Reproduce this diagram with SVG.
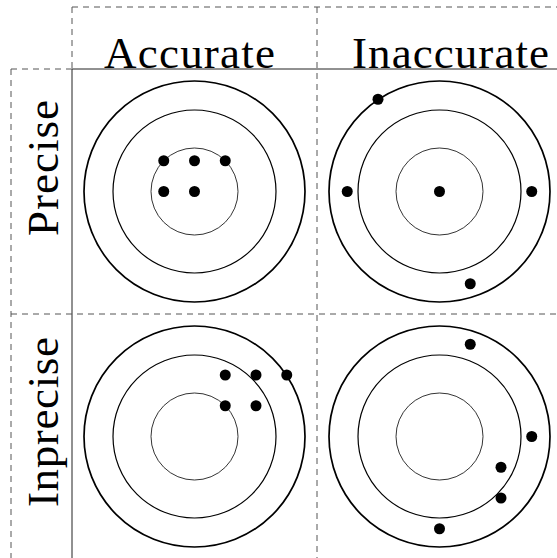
<svg xmlns="http://www.w3.org/2000/svg" width="557" height="558" viewBox="0 0 557 558">
<style>
.grid{stroke:#555;stroke-width:1;fill:none}
.solid{stroke:#222}
.dash{stroke-dasharray:6 5}
.outer{fill:none;stroke:#000;stroke-width:1.7}
.mid{fill:none;stroke:#000;stroke-width:1.2}
.inner{fill:none;stroke:#000;stroke-width:0.8}
.dot{fill:#000}
.lbl{font-family:"Liberation Serif","Times New Roman",serif;font-size:45px;fill:#000}
</style>
<rect width="557" height="558" fill="#fff"/>
<g id="connectors">
<line class="grid dash" x1="72" y1="7" x2="557" y2="7"/>
<line class="grid dash" x1="72" y1="7" x2="72" y2="69"/>
<line class="grid solid" x1="72" y1="69" x2="72" y2="558"/>
<line class="grid dash" x1="11" y1="69" x2="72" y2="69"/>
<line class="grid solid" x1="72" y1="69" x2="557" y2="69"/>
<line class="grid dash" x1="317" y1="7" x2="317" y2="558"/>
<line class="grid dash" x1="11" y1="69" x2="11" y2="558"/>
<line class="grid dash" x1="11" y1="314" x2="557" y2="314"/>
</g>
<g id="label-accurate"><text class="lbl" x="104" y="68" textLength="171">Accurate</text></g>
<g id="label-inaccurate"><text class="lbl" x="352" y="68" textLength="197">Inaccurate</text></g>
<g id="label-precise"><text class="lbl" transform="translate(58,236) rotate(-90)" x="0" y="0" textLength="136">Precise</text></g>
<g id="label-imprecise"><text class="lbl" transform="translate(58,507) rotate(-90)" x="0" y="0" textLength="170">Inprecise</text></g>
<g id="target-accurate-precise" transform="translate(194.5,191.5)">
<circle class="outer" r="110.5"/><circle class="mid" r="81.5"/><circle class="inner" r="43.5"/>
<circle class="dot" cx="-30.75" cy="-30.75" r="5.5"/><circle class="dot" cx="0" cy="-30.75" r="5.5"/><circle class="dot" cx="30.75" cy="-30.75" r="5.5"/>
<circle class="dot" cx="-30.75" cy="0" r="5.5"/><circle class="dot" cx="0" cy="0" r="5.5"/>
</g>
<g id="target-inaccurate-precise" transform="translate(439.5,191.5)">
<circle class="outer" r="110.5"/><circle class="mid" r="81.5"/><circle class="inner" r="43.5"/>
<circle class="dot" cx="-61.5" cy="-92.25" r="5.5"/><circle class="dot" cx="-92.25" cy="0" r="5.5"/><circle class="dot" cx="0" cy="0" r="5.5"/>
<circle class="dot" cx="92.25" cy="0" r="5.5"/><circle class="dot" cx="30.75" cy="92.25" r="5.5"/>
</g>
<g id="target-accurate-imprecise" transform="translate(194.5,436.5)">
<circle class="outer" r="110.5"/><circle class="mid" r="81.5"/><circle class="inner" r="43.5"/>
<circle class="dot" cx="30.75" cy="-61.5" r="5.5"/><circle class="dot" cx="61.5" cy="-61.5" r="5.5"/><circle class="dot" cx="92.25" cy="-61.5" r="5.5"/>
<circle class="dot" cx="30.75" cy="-30.75" r="5.5"/><circle class="dot" cx="61.5" cy="-30.75" r="5.5"/>
</g>
<g id="target-inaccurate-imprecise" transform="translate(439.5,436.5)">
<circle class="outer" r="110.5"/><circle class="mid" r="81.5"/><circle class="inner" r="43.5"/>
<circle class="dot" cx="30.75" cy="-92.25" r="5.5"/><circle class="dot" cx="92.25" cy="0" r="5.5"/><circle class="dot" cx="61.5" cy="30.75" r="5.5"/>
<circle class="dot" cx="61.5" cy="61.5" r="5.5"/><circle class="dot" cx="0" cy="92.25" r="5.5"/>
</g>
</svg>
